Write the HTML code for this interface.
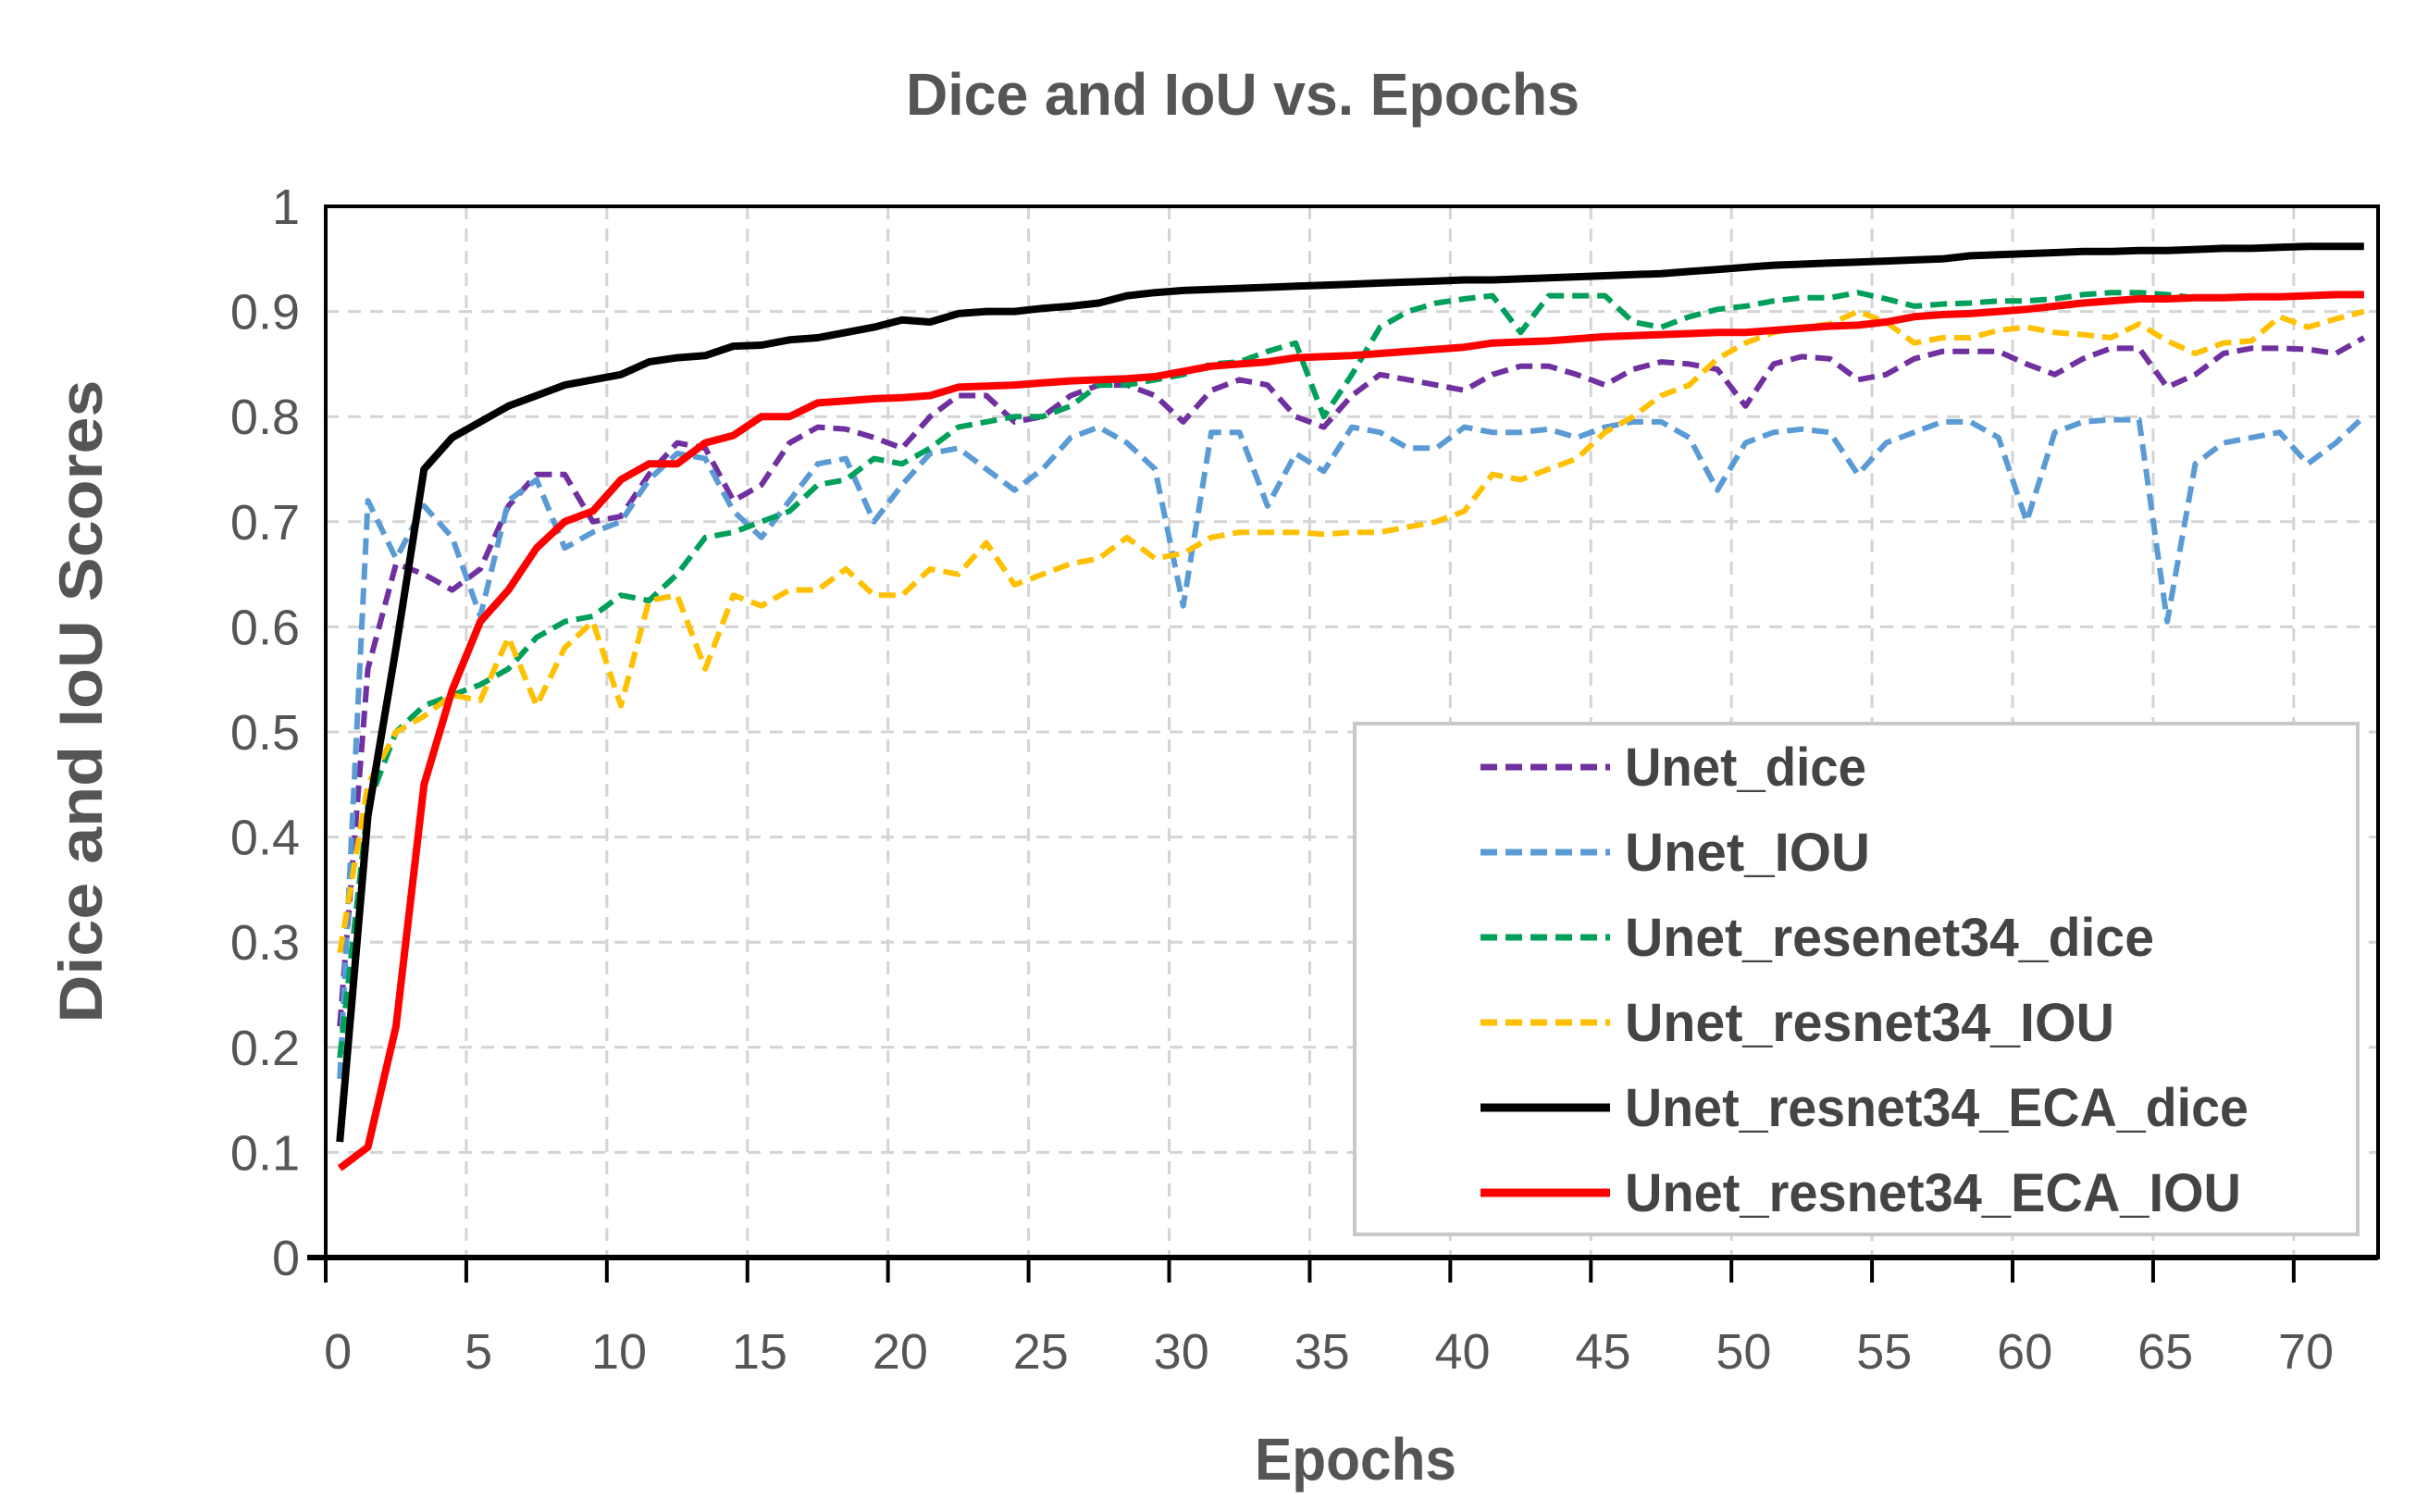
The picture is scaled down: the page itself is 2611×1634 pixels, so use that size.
<!DOCTYPE html>
<html><head><meta charset="utf-8"><style>
html,body{margin:0;padding:0;background:#fff;}
svg{display:block;font-family:"Liberation Sans",sans-serif;}
</style></head><body>
<svg id="chart" width="2611" height="1634" viewBox="0 0 2611 1634" xmlns="http://www.w3.org/2000/svg">
<text x="1343" y="124" text-anchor="middle" font-size="64" font-weight="bold" fill="#555" textLength="728" lengthAdjust="spacingAndGlyphs">Dice and IoU vs. Epochs</text>
<g id="grid"></g>
<g id="series"></g>
<g id="axes"></g>
<text transform="translate(110,758) rotate(-90)" text-anchor="middle" font-size="66" font-weight="bold" fill="#555" textLength="695" lengthAdjust="spacingAndGlyphs">Dice and IoU Scores</text>
<text x="1465" y="1599" text-anchor="middle" font-size="64" font-weight="bold" fill="#555" textLength="218" lengthAdjust="spacingAndGlyphs">Epochs</text>
<g id="legend"></g>
</svg>
<script>
const unetDice=[0.22,0.56,0.66,0.65,0.635,0.655,0.715,0.745,0.745,0.7,0.705,0.745,0.775,0.77,0.72,0.735,0.775,0.79,0.788,0.78,0.77,0.8,0.82,0.82,0.795,0.8,0.82,0.83,0.83,0.82,0.795,0.825,0.835,0.83,0.8,0.79,0.82,0.84,0.835,0.83,0.825,0.84,0.848,0.848,0.84,0.83,0.845,0.852,0.85,0.845,0.81,0.85,0.857,0.855,0.835,0.84,0.855,0.862,0.862,0.862,0.85,0.84,0.855,0.865,0.865,0.828,0.84,0.86,0.865,0.865,0.864,0.86,0.875];
const unetIou=[0.17,0.72,0.665,0.715,0.685,0.61,0.72,0.74,0.675,0.69,0.7,0.74,0.765,0.76,0.71,0.685,0.72,0.755,0.76,0.7,0.735,0.765,0.77,0.75,0.73,0.75,0.78,0.79,0.775,0.75,0.62,0.785,0.785,0.715,0.765,0.748,0.79,0.785,0.77,0.77,0.79,0.785,0.785,0.788,0.78,0.79,0.795,0.795,0.78,0.73,0.775,0.785,0.788,0.785,0.745,0.775,0.785,0.795,0.795,0.78,0.7,0.785,0.795,0.797,0.797,0.605,0.755,0.775,0.78,0.785,0.755,0.775,0.8];
const resDice=[0.19,0.43,0.5,0.525,0.535,0.545,0.56,0.59,0.605,0.61,0.63,0.625,0.65,0.685,0.69,0.7,0.71,0.735,0.74,0.76,0.755,0.77,0.79,0.795,0.8,0.8,0.81,0.83,0.83,0.835,0.84,0.85,0.852,0.862,0.87,0.8,0.84,0.885,0.9,0.908,0.912,0.915,0.88,0.915,0.915,0.915,0.89,0.885,0.895,0.902,0.905,0.91,0.913,0.913,0.918,0.912,0.905,0.907,0.908,0.91,0.91,0.912,0.916,0.918,0.918,0.916,0.913,0.913,0.914,0.914,0.915,0.916,0.916];
const resIou=[0.29,0.45,0.5,0.515,0.535,0.53,0.59,0.525,0.58,0.605,0.525,0.625,0.63,0.56,0.63,0.62,0.635,0.635,0.655,0.63,0.63,0.655,0.65,0.68,0.64,0.65,0.66,0.665,0.685,0.665,0.67,0.685,0.69,0.69,0.69,0.688,0.69,0.69,0.695,0.7,0.71,0.745,0.74,0.75,0.76,0.785,0.8,0.82,0.83,0.855,0.87,0.88,0.885,0.888,0.9,0.89,0.87,0.875,0.875,0.882,0.885,0.88,0.878,0.875,0.888,0.872,0.86,0.87,0.872,0.895,0.885,0.893,0.9];
const ecaDice=[0.11,0.42,0.58,0.75,0.78,0.795,0.81,0.82,0.83,0.835,0.84,0.852,0.856,0.858,0.867,0.868,0.873,0.875,0.88,0.885,0.892,0.89,0.898,0.9,0.9,0.903,0.905,0.908,0.915,0.918,0.92,0.921,0.922,0.923,0.924,0.925,0.926,0.927,0.928,0.929,0.93,0.93,0.931,0.932,0.933,0.934,0.935,0.936,0.938,0.94,0.942,0.944,0.945,0.946,0.947,0.948,0.949,0.95,0.953,0.954,0.955,0.956,0.957,0.957,0.958,0.958,0.959,0.96,0.96,0.961,0.962,0.962,0.962];
const ecaIou=[0.085,0.105,0.22,0.45,0.54,0.605,0.635,0.675,0.7,0.71,0.74,0.755,0.755,0.775,0.782,0.8,0.8,0.813,0.815,0.817,0.818,0.82,0.828,0.829,0.83,0.832,0.834,0.835,0.836,0.838,0.843,0.848,0.85,0.852,0.856,0.857,0.858,0.86,0.862,0.864,0.866,0.87,0.871,0.872,0.874,0.876,0.877,0.878,0.879,0.88,0.88,0.882,0.884,0.886,0.887,0.89,0.895,0.897,0.898,0.9,0.902,0.905,0.908,0.91,0.912,0.912,0.913,0.913,0.914,0.914,0.915,0.916,0.916];
const xTickLabels=["0","5","10","15","20","25","30","35","40","45","50","55","60","65","70"];
const yTickLabels=["0","0.1","0.2","0.3","0.4","0.5","0.6","0.7","0.8","0.9","1"];
const seriesNames=["Unet_dice","Unet_IOU","Unet_resenet34_dice","Unet_resnet34_IOU","Unet_resnet34_ECA_dice","Unet_resnet34_ECA_IOU"];

const NS="http://www.w3.org/2000/svg";
const L=352,R=2570,T=223,B=1359;
const nCat=unetDice.length;
const cw=(R-L)/nCat;
function xs(i){return L+(i+0.5)*cw;}
function xb(i){return L+i*cw;}
function ys(v){return B-(B-T)*v;}
function mk(tag,attrs,parent){const e=document.createElementNS(NS,tag);for(const k in attrs)e.setAttribute(k,attrs[k]);parent.appendChild(e);return e;}
const grid=document.getElementById('grid'),axes=document.getElementById('axes'),ser=document.getElementById('series'),leg=document.getElementById('legend');

yTickLabels.forEach((lab,i)=>{
  const v=parseFloat(lab),y=ys(v);
  if(v>0&&v<1){const g=mk('line',{x1:L,x2:R,y1:y,y2:y,stroke:'#d4d4d4','stroke-width':3,'stroke-dasharray':'14 10'},grid);
  
  }
  const t=mk('text',{x:L-28,y:y+19,'text-anchor':'end','font-size':54,fill:'#555'},axes);
  t.textContent=lab;
  
  
});
xTickLabels.forEach((lab,i)=>{
  const c=parseInt(lab),x=xb(c);
  if(c>0){const g=mk('line',{x1:x,x2:x,y1:T,y2:B,stroke:'#d4d4d4','stroke-width':3,'stroke-dasharray':'14 10'},grid);
  
  }
  const tk=mk('line',{x1:x,x2:x,y1:B,y2:B+27,stroke:'#000','stroke-width':4},axes);
  
  
  const t=mk('text',{x:xs(c)-2,y:1479,'text-anchor':'middle','font-size':54,fill:'#555'},axes);
  t.textContent=lab;
  
  
});
const frame=mk('rect',{x:L,y:T,width:R-L,height:B-T,fill:'none',stroke:'#000','stroke-width':4},axes);


const xax=mk('line',{x1:L-20,x2:R,y1:B,y2:B,stroke:'#000','stroke-width':6},axes);



const styles=[
 {d:unetDice,c:'#7030A0',w:6,dash:'18 9'},
 {d:unetIou,c:'#5B9BD5',w:6,dash:'18 9'},
 {d:resDice,c:'#00A05A',w:6,dash:'18 9'},
 {d:resIou,c:'#FFC000',w:6,dash:'18 9'},
 {d:ecaDice,c:'#000000',w:8,dash:''},
 {d:ecaIou,c:'#FF0000',w:8,dash:''}
];
styles.forEach((s,k)=>{
  const pts=s.d.map((v,i)=>xs(i).toFixed(1)+','+ys(v).toFixed(1)).join(' ');
  const p=mk('polyline',{points:pts,fill:'none',stroke:s.c,'stroke-width':s.w,'stroke-linejoin':'round'},ser);
  if(s.dash)p.setAttribute('stroke-dasharray',s.dash);
  
  
});

const lb=mk('rect',{x:1464,y:782,width:1084,height:552,fill:'#fff',stroke:'#c8c8c8','stroke-width':4},leg);


const widths=[261,265,572,529,674,666];
seriesNames.forEach((n,k)=>{
  const y=829+k*92,s=styles[k];
  const l=mk('line',{x1:1600,x2:1740,y1:y,y2:y,stroke:s.c,'stroke-width':s.w+1},leg);
  if(s.dash)l.setAttribute('stroke-dasharray','18 9');
  
  
  const t=mk('text',{x:1756,y:y+20,'font-size':58,'font-weight':'bold',fill:'#444',textLength:widths[k],lengthAdjust:'spacingAndGlyphs'},leg);
  t.textContent=n;
  
  
});
</script>
</body></html>
